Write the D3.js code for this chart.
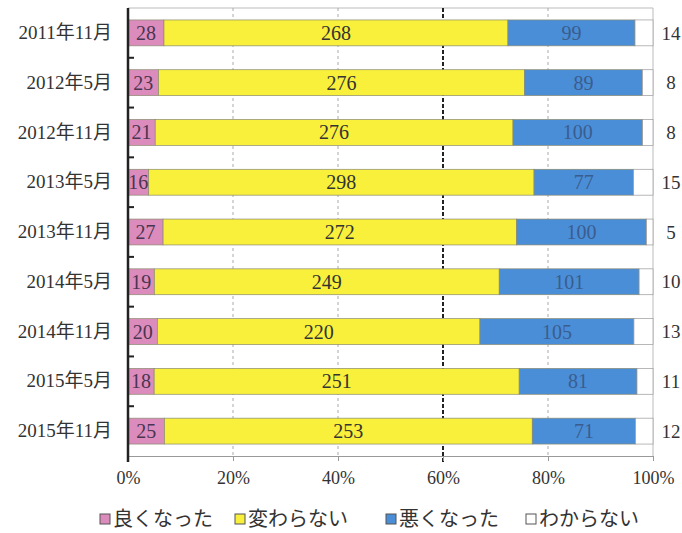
<!DOCTYPE html>
<html>
<head>
<meta charset="utf-8">
<script src="https://cdn.jsdelivr.net/npm/d3@7/dist/d3.min.js"></script>
<style>
  body { margin: 0; background: #fff; }
  svg { display: block; }
  text { font-family: "Liberation Serif", "Noto Sans CJK JP", serif; fill: #333; }
</style>
</head>
<body>
<svg id="chart" width="682" height="533"></svg>
<script>
// Survey periods (rows, top to bottom)
const periods = ["2011年11月", "2012年5月", "2012年11月", "2013年5月", "2013年11月",
                 "2014年5月", "2014年11月", "2015年5月", "2015年11月"];
// Answer categories
const answers = ["良くなった", "変わらない", "悪くなった", "わからない"];
// Counts per answer for each period
const better  = [28, 23, 21, 16, 27, 19, 20, 18, 25];
const same    = [268, 276, 276, 298, 272, 249, 220, 251, 253];
const worse   = [99, 89, 100, 77, 100, 101, 105, 81, 71];
const unknown = [14, 8, 8, 15, 5, 10, 13, 11, 12];
// Axis tick labels
const xTicks = [0, 0.2, 0.4, 0.6, 0.8, 1.0];

const colors = ["#dc8cbc", "#f8f03a", "#4a8ed8", "#ffffff"];
const labelColors = ["#4a3550", "#333333", "#3a5d8e", "#333333"];

const svg = d3.select("#chart");
const m = { left: 128, right: 653, top: 8, bottom: 456 };

const x = d3.scaleLinear().domain([0, 1]).range([m.left, m.right]);
const y = d3.scaleBand().domain(periods).range([m.top, m.bottom]).paddingInner(0.48).paddingOuter(0.24);

// Build stacked shares per period
const rows = periods.map((p, i) => {
  const vals = [better[i], same[i], worse[i], unknown[i]];
  const total = d3.sum(vals);
  let acc = 0;
  const segs = vals.map((v, k) => {
    const s = { period: p, k, v, x0: acc / total, x1: (acc + v) / total };
    acc += v;
    return s;
  });
  return { period: p, segs };
});

// Plot frame: top and right border
svg.append("line").attr("x1", m.left).attr("x2", m.right).attr("y1", m.top).attr("y2", m.top)
  .attr("stroke", "#bbb").attr("stroke-width", 1);
svg.append("line").attr("x1", m.right).attr("x2", m.right).attr("y1", m.top).attr("y2", m.bottom)
  .attr("stroke", "#bbb").attr("stroke-width", 1);

// Vertical grid lines
[0.2, 0.4, 0.8].forEach(t => {
  svg.append("line").attr("x1", x(t)).attr("x2", x(t)).attr("y1", m.top).attr("y2", m.bottom)
    .attr("stroke", "#aaa").attr("stroke-width", 1).attr("stroke-dasharray", "3,3");
});
svg.append("line").attr("x1", x(0.6)).attr("x2", x(0.6)).attr("y1", m.top).attr("y2", m.bottom + 6)
  .attr("stroke", "#222").attr("stroke-width", 2).attr("stroke-dasharray", "4,2");

// Bars
const g = svg.append("g");
rows.forEach(r => {
  g.selectAll(null).data(r.segs).enter().append("rect")
    .attr("x", d => x(d.x0))
    .attr("y", y(r.period))
    .attr("width", d => x(d.x1) - x(d.x0))
    .attr("height", y.bandwidth())
    .attr("fill", d => colors[d.k])
    .attr("stroke", d => d.k === 3 ? "#999" : "#8a8a70")
    .attr("stroke-width", 0.7);

  // value labels inside segments (first three answers)
  g.selectAll(null).data(r.segs.filter(d => d.k < 3)).enter().append("text")
    .attr("x", d => (x(d.x0) + x(d.x1)) / 2)
    .attr("y", y(r.period) + y.bandwidth() / 2)
    .attr("dy", "0.35em")
    .attr("text-anchor", "middle")
    .attr("font-size", 20)
    .style("fill", d => labelColors[d.k])
    .text(d => d.v);

  // "わからない" counts sit outside the plot on the right
  const u = r.segs[3];
  g.append("text")
    .attr("x", 671)
    .attr("y", y(r.period) + y.bandwidth() / 2)
    .attr("dy", "0.35em")
    .attr("text-anchor", "middle")
    .attr("font-size", 19)
    .text(u.v);
});

// Bottom axis
const xAxis = d3.axisBottom(x).tickValues(xTicks).tickFormat(d3.format(".0%")).tickSize(5);
const xg = svg.append("g").attr("transform", `translate(0,${m.bottom})`).call(xAxis);
xg.select(".domain").attr("stroke", "#999");
xg.selectAll(".tick line").attr("stroke", "#999");
xg.selectAll(".tick text").attr("font-size", 18).attr("dy", "1.1em")
  .attr("font-family", "Liberation Serif").style("fill", "#333");

// Left axis
const yAxis = d3.axisLeft(y).tickSize(0).tickPadding(16);
const yg = svg.append("g").attr("transform", `translate(${m.left},0)`).call(yAxis);
yg.select(".domain").remove();
yg.selectAll(".tick text").attr("font-size", 19).style("fill", "#333");
svg.append("line").attr("x1", m.left).attr("x2", m.left).attr("y1", m.top).attr("y2", m.bottom + 6)
  .attr("stroke", "#222").attr("stroke-width", 2.5);
// category separator ticks on the axis
const step = y.step();
d3.range(1, periods.length).forEach(i => {
  const yy = y(periods[i]) - step * y.paddingInner() / 2;
  svg.append("line").attr("x1", m.left).attr("x2", m.left + 6).attr("y1", yy).attr("y2", yy)
    .attr("stroke", "#222").attr("stroke-width", 2);
});

// Legend
const legendX = [100, 235, 386, 526];
const lg = svg.append("g").attr("transform", "translate(0,519)");
answers.forEach((a, k) => {
  lg.append("rect").attr("x", legendX[k]).attr("y", -5).attr("width", 10).attr("height", 10)
    .attr("fill", colors[k]).attr("stroke", "#555").attr("stroke-width", 1);
  lg.append("text").attr("x", legendX[k] + 13).attr("y", 0).attr("dy", "0.35em")
    .attr("font-size", 20).attr("font-family", "Noto Sans CJK JP").style("fill", "#333").text(a);
});
</script>
</body>
</html>
